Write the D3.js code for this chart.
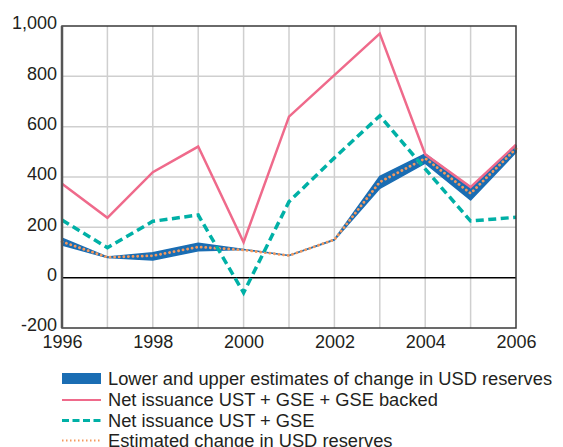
<!DOCTYPE html>
<html>
<head>
<meta charset="utf-8">
<style>
body { margin: 0; background: #fff; }
svg { font-family: "Liberation Sans", Arial, Helvetica, sans-serif; }
.grid line { stroke: #cfcfcf; stroke-width: 1.5px; }
.tick text { fill: #231f20; }
</style>
</head>
<body>
<svg width="563" height="447"></svg>
<script src="https://cdn.jsdelivr.net/npm/d3@7"></script>
<script>
// data (USD bn)
var years = [1996, 1997, 1998, 1999, 2000, 2001, 2002, 2003, 2004, 2005, 2006];
var ustGseBacked = [373, 238, 419, 521, 141, 640, 805, 970, 490, 360, 528];
var ustGse = [229, 119, 224, 249, -60, 302, 476, 643, 432, 225, 240];
var estLower = [130, 80, 70, 107, 112, 88, 150, 355, 455, 309, 498];
var estUpper = [157, 82, 99, 137, 112, 88, 152, 402, 492, 357, 525];
var estChange = [143, 81, 87, 122, 110, 88, 151, 380, 474, 335, 512];
var yTicks = [-200, 0, 200, 400, 600, 800, 1000];
var xTicks = [1996, 1998, 2000, 2002, 2004, 2006];
var legendLabels = [
  "Lower and upper estimates of change in USD reserves",
  "Net issuance UST + GSE + GSE backed",
  "Net issuance UST + GSE",
  "Estimated change in USD reserves"
];

var svg = d3.select("svg");
var plotL = 62, plotR = 516, plotT = 26, plotB = 328;

var x = d3.scaleLinear().domain([1996, 2006]).range([plotL, plotR]);
var y = d3.scaleLinear().domain([-200, 1000]).range([plotB, plotT]);

// grid
var grid = svg.append("g").attr("class", "grid");
grid.selectAll(".gx")
  .data(years.slice(1, -1))
  .enter().append("line")
    .attr("x1", function(d) { return x(d); })
    .attr("x2", function(d) { return x(d); })
    .attr("y1", plotT).attr("y2", plotB);
grid.selectAll(".gy")
  .data(yTicks.filter(function(d) { return d != 0 && d != -200 && d != 1000; }))
  .enter().append("line")
    .attr("y1", function(d) { return y(d); })
    .attr("y2", function(d) { return y(d); })
    .attr("x1", plotL).attr("x2", plotR);

// zero line
svg.append("line")
  .attr("x1", plotL).attr("x2", plotR)
  .attr("y1", y(0)).attr("y2", y(0))
  .attr("stroke", "#000").attr("stroke-width", 1.5);

var pts = years.map(function(d, i) { return i; });

// band
var band = d3.area()
  .x(function(i) { return x(years[i]); })
  .y0(function(i) { return y(estLower[i]); })
  .y1(function(i) { return y(estUpper[i]); });
svg.append("path")
  .attr("d", band(pts))
  .attr("fill", "#1a6db3")
  .attr("stroke", "#1a6db3")
  .attr("stroke-width", 1.5)
  .attr("stroke-linejoin", "round");

function lineOf(arr) {
  return d3.line()
    .x(function(i) { return x(years[i]); })
    .y(function(i) { return y(arr[i]); })(pts);
}

svg.append("path")
  .attr("d", lineOf(estChange))
  .attr("fill", "none")
  .attr("stroke", "#f5995d")
  .attr("stroke-width", 2.8)
  .attr("stroke-dasharray", "0.1,4.5")
  .attr("stroke-linecap", "round");

svg.append("path")
  .attr("d", lineOf(ustGse))
  .attr("fill", "none")
  .attr("stroke", "#00b0a6")
  .attr("stroke-width", 3.5)
  .attr("stroke-dasharray", "8,4.5");

svg.append("path")
  .attr("d", lineOf(ustGseBacked))
  .attr("fill", "none")
  .attr("stroke", "#ef6a8b")
  .attr("stroke-width", 2.5);

// frame
svg.append("rect")
  .attr("x", plotL).attr("y", plotT)
  .attr("width", plotR - plotL).attr("height", plotB - plotT)
  .attr("fill", "none")
  .attr("stroke", "#3a3a3a")
  .attr("stroke-width", 1.5);
svg.append("line")
  .attr("x1", plotL).attr("x2", plotL)
  .attr("y1", plotT).attr("y2", plotB)
  .attr("stroke", "#555").attr("stroke-width", 2.5);

// axes
var yAxis = d3.axisLeft(y).tickValues(yTicks).tickSize(0).tickPadding(5)
  .tickFormat(function(d) { return d3.format(",")(d).replace("\u2212", "-"); });
svg.append("g")
  .attr("transform", "translate(" + plotL + ",-3)")
  .call(yAxis)
  .call(function(g) { g.select(".domain").remove(); })
  .selectAll("text").attr("font-size", 18).attr("font-family", null);

var xAxis = d3.axisBottom(x).tickValues(xTicks).tickSize(0).tickPadding(7)
  .tickFormat(d3.format("d"));
svg.append("g")
  .attr("transform", "translate(0," + plotB + ")")
  .call(xAxis)
  .call(function(g) { g.select(".domain").remove(); })
  .selectAll("text").attr("font-size", 18).attr("font-family", null);

// legend
var leg = svg.append("g");
var rowY = [379, 400, 420.5, 440.5];
legendLabels.forEach(function(lbl, i) {
  var g = leg.append("g").attr("transform", "translate(0," + rowY[i] + ")");
  if (i == 0) {
    g.append("rect").attr("x", 62).attr("y", -6).attr("width", 39).attr("height", 11)
      .attr("fill", "#1a6db3");
  } else if (i == 1) {
    g.append("line").attr("x1", 62).attr("x2", 101)
      .attr("stroke", "#ef6a8b").attr("stroke-width", 2.2);
  } else if (i == 2) {
    g.append("line").attr("x1", 62).attr("x2", 101)
      .attr("stroke", "#00b0a6").attr("stroke-width", 3.2)
      .attr("stroke-dasharray", "7,3.5");
  } else {
    g.append("line").attr("x1", 62).attr("x2", 101)
      .attr("stroke", "#f5995d").attr("stroke-width", 2)
      .attr("stroke-dasharray", "1.5,2.5");
  }
  g.append("text")
    .attr("x", 108).attr("dy", "0.35em")
    .attr("font-size", 18.3)
    .attr("fill", "#231f20")
    .text(lbl);
});
</script>
</body>
</html>
